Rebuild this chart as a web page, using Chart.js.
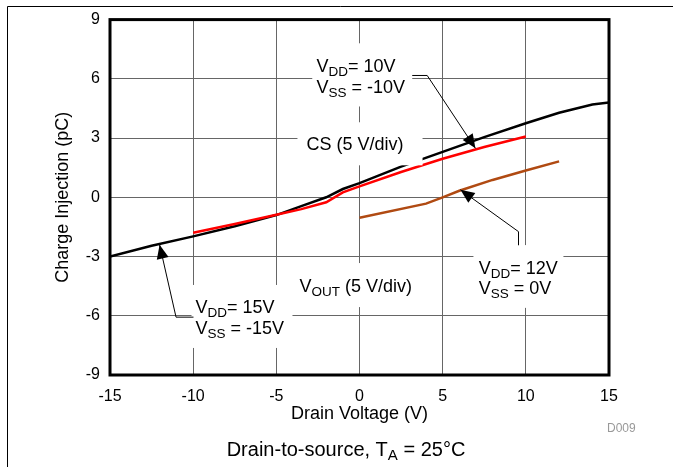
<!DOCTYPE html>
<html>
<head>
<meta charset="utf-8">
<script src="https://cdn.jsdelivr.net/npm/chart.js@4"></script>
<style>
  body { margin: 0; background: #fff; }
  canvas { display: block; }
</style>
</head>
<body>
<canvas id="chargeChart" width="673" height="467"></canvas>
<script>
// tick labels
const xTicks = [-15, -10, -5, 0, 5, 10, 15];
const yTicks = [-9, -6, -3, 0, 3, 6, 9];

// VDD = 15V, VSS = -15V (black)
const v15X = [-15, -12.5, -10, -7.5, -5, -3.5, -2, -1, 0, 2.5, 5, 7.5, 10, 12, 14, 15];
const v15Y = [-3.0, -2.45, -1.98, -1.47, -0.9, -0.45, 0.0, 0.42, 0.72, 1.55, 2.3, 3.05, 3.75, 4.28, 4.7, 4.8];

// VDD = 10V, VSS = -10V (red)
const v10X = [-10, -7.5, -5, -3.5, -2, -1, 0, 2.5, 5, 7.5, 10];
const v10Y = [-1.8, -1.35, -0.88, -0.6, -0.25, 0.25, 0.55, 1.28, 1.95, 2.55, 3.08];

// VDD = 12V, VSS = 0V (brown)
const v12X = [0, 4, 5, 6, 8, 10, 12];
const v12Y = [-1.04, -0.32, 0.0, 0.33, 0.88, 1.36, 1.82];

const FONT = '"Liberation Sans", Arial, sans-serif';

function pts(xs, ys) {
  return xs.map((x, i) => ({ x: x, y: ys[i] }));
}

// text with subscripts: parts = [[text, isSub], ...]
function richWidth(ctx, parts, size) {
  let w = 0;
  parts.forEach(([t, sub]) => {
    ctx.font = (sub ? size * 0.75 : size) + 'px ' + FONT;
    w += ctx.measureText(t).width;
  });
  return w;
}
function richText(ctx, x, y, parts, size) {
  let cx = x;
  parts.forEach(([t, sub]) => {
    ctx.font = (sub ? size * 0.75 : size) + 'px ' + FONT;
    ctx.fillText(t, cx, sub ? y + size * 0.22 : y);
    cx += ctx.measureText(t).width;
  });
}

// label backgrounds in data units [x1, y1, x2, y2]
const whiteBoxes = [
  [-2.84, 7.8, 3.17, 4.6],
  [-3.73, 3.8, 3.79, 1.62],
  [-10.1, -4.44, -4.03, -7.63],
  [-4.0, -3.33, 3.8, -5.56],
  [6.85, -2.42, 12.26, -5.6]
];

// leader lines, last point is the arrow tip
const arrows = [
  [[3.17, 6.17], [4.07, 6.17], [6.97, 2.48]],
  [[9.56, -2.43], [9.56, -1.74], [6.07, 0.38]],
  [[-9.98, -6.07], [-11.03, -6.07], [-12.02, -2.4]]
];

// labels: [x, y(baseline), parts]
const labels = [
  [-2.59, 6.33, [['V', 0], ['DD', 1], ['= 10V', 0]]],
  [-2.59, 5.27, [['V', 0], ['SS', 1], [' = -10V', 0]]],
  [-3.19, 2.38, [['CS (5 V/div)', 0]]],
  [-9.86, -5.86, [['V', 0], ['DD', 1], ['= 15V', 0]]],
  [-9.86, -6.93, [['V', 0], ['SS', 1], [' = -15V', 0]]],
  [-3.61, -4.8, [['V', 0], ['OUT', 1], [' (5 V/div)', 0]]],
  [7.17, -3.89, [['V', 0], ['DD', 1], ['= 12V', 0]]],
  [7.17, -4.92, [['V', 0], ['SS', 1], [' = 0V', 0]]]
];

const decorations = {
  id: 'decorations',
  afterDatasetsDraw(chart) {
    const ctx = chart.ctx;
    const xs = chart.scales.x, ys = chart.scales.y;
    const px = v => xs.getPixelForValue(v);
    const py = v => ys.getPixelForValue(v);
    const a = chart.chartArea;
    ctx.save();

    ctx.fillStyle = '#fff';
    whiteBoxes.forEach(b => {
      ctx.fillRect(px(b[0]), py(b[1]), px(b[2]) - px(b[0]), py(b[3]) - py(b[1]));
    });

    ctx.fillStyle = '#000';
    ctx.textBaseline = 'alphabetic';
    ctx.textAlign = 'left';
    labels.forEach(l => richText(ctx, px(l[0]), py(l[1]), l[2], 18));

    ctx.strokeStyle = '#000';
    ctx.lineWidth = 1;
    arrows.forEach(ar => {
      ctx.beginPath();
      ar.forEach((p, i) => {
        if (i === 0) ctx.moveTo(px(p[0]), py(p[1]));
        else ctx.lineTo(px(p[0]), py(p[1]));
      });
      ctx.stroke();
      const p1 = ar[ar.length - 2], p2 = ar[ar.length - 1];
      const x1 = px(p1[0]), y1 = py(p1[1]), x2 = px(p2[0]), y2 = py(p2[1]);
      const ang = Math.atan2(y2 - y1, x2 - x1);
      const len = 14, hw = 6;
      ctx.beginPath();
      ctx.moveTo(x2, y2);
      ctx.lineTo(x2 - len * Math.cos(ang) + hw * Math.sin(ang), y2 - len * Math.sin(ang) - hw * Math.cos(ang));
      ctx.lineTo(x2 - len * Math.cos(ang) - hw * Math.sin(ang), y2 - len * Math.sin(ang) + hw * Math.cos(ang));
      ctx.closePath();
      ctx.fill();
    });

    // plot frame
    ctx.lineWidth = 3;
    ctx.strokeRect(a.left, a.top, a.right - a.left, a.bottom - a.top);
    ctx.restore();
  },
  afterDraw(chart) {
    const ctx = chart.ctx;
    const a = chart.chartArea;
    ctx.save();
    // page frame
    ctx.strokeStyle = '#000';
    ctx.lineWidth = 1;
    ctx.beginPath();
    ctx.moveTo(7.5, 467);
    ctx.lineTo(7.5, 6.5);
    ctx.lineTo(673, 6.5);
    ctx.stroke();

    ctx.fillStyle = '#000';
    // y title
    ctx.translate(63, (a.top + a.bottom) / 2);
    ctx.rotate(-Math.PI / 2);
    ctx.font = '18px ' + FONT;
    ctx.textAlign = 'center';
    ctx.textBaseline = 'middle';
    ctx.fillText('Charge Injection (pC)', 0, 0);
    ctx.setTransform(1, 0, 0, 1, 0, 0);

    // x title
    ctx.fillText('Drain Voltage (V)', (a.left + a.right) / 2, 414);

    // caption
    ctx.textAlign = 'left';
    ctx.textBaseline = 'alphabetic';
    const cap = [['Drain-to-source, T', 0], ['A', 1], [' = 25°C', 0]];
    const w = richWidth(ctx, cap, 20);
    richText(ctx, 346 - w / 2, 456, cap, 20);

    ctx.fillStyle = '#999';
    ctx.font = '12px ' + FONT;
    ctx.fillText('D009', 607, 432);
    ctx.restore();
  }
};

new Chart(document.getElementById('chargeChart'), {
  type: 'line',
  data: {
    datasets: [
      { data: pts(v15X, v15Y), borderColor: '#000', borderWidth: 2.5, order: 3 },
      { data: pts(v12X, v12Y), borderColor: '#b04a12', borderWidth: 2.5, order: 2 },
      { data: pts(v10X, v10Y), borderColor: '#ff0000', borderWidth: 2.5, order: 1 }
    ]
  },
  options: {
    responsive: false,
    animation: false,
    devicePixelRatio: 1,
    layout: { padding: { left: 0, top: 19, right: 64, bottom: 0 } },
    elements: { point: { radius: 0 }, line: { tension: 0 } },
    plugins: { legend: { display: false }, tooltip: { enabled: false } },
    scales: {
      x: {
        type: 'linear',
        min: -15, max: 15,
        afterBuildTicks: s => { s.ticks = xTicks.map(v => ({ value: v })); },
        afterFit: s => { s.height = 92; },
        grid: { color: '#666', lineWidth: 1, drawTicks: false },
        border: { display: false },
        ticks: { color: '#000', font: { family: FONT, size: 16 }, padding: 12, maxRotation: 0 }
      },
      y: {
        min: -9, max: 9,
        afterBuildTicks: s => { s.ticks = yTicks.map(v => ({ value: v })); },
        afterFit: s => { s.width = 110; },
        grid: { color: '#666', lineWidth: 1, drawTicks: false },
        border: { display: false },
        ticks: { color: '#000', font: { family: FONT, size: 16 }, padding: 10 }
      }
    }
  },
  plugins: [decorations]
});
</script>
</body>
</html>
